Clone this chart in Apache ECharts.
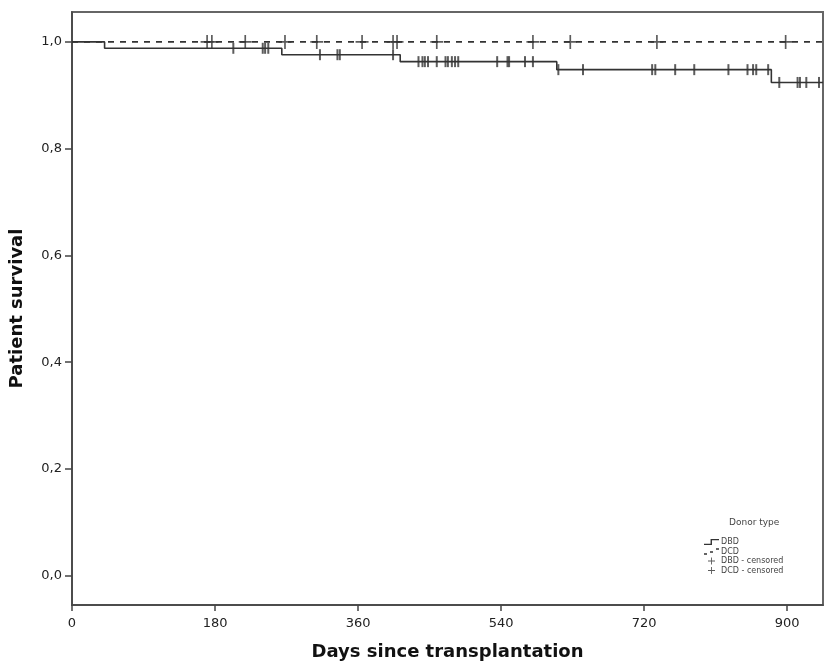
<!DOCTYPE html>
<html>
<head>
<meta charset="utf-8">
<script src="https://cdn.jsdelivr.net/npm/echarts@6/dist/echarts.min.js"></script>
<style>
  html, body { margin: 0; padding: 0; background: #fff; }
  #main { width: 826px; height: 665px; }
</style>
</head>
<body>
<div id="main"></div>
<script>
// Kaplan-Meier steps (day of event, survival after event)
const dbdTimes = [0, 41, 264, 413, 610, 880, 945]
const dbdSurv = [1, 0.988, 0.976, 0.963, 0.948, 0.924, 0.924]
const dcdTimes = [0, 945]
const dcdSurv = [1, 1]

// censored observations (days)
const dbdCensored = [203, 240, 243, 247, 312, 334, 337, 404, 436, 441, 444, 448, 459,
  470, 473, 478, 482, 486, 535, 548, 550, 570, 580, 612, 643, 730, 734, 759, 783,
  826, 850, 857, 861, 876, 890, 913, 916, 924, 940]
const dcdCensored = [170, 176, 218, 268, 308, 365, 404, 409, 459, 580, 627, 736, 898]

const xTicks = [0, 180, 360, 540, 720, 900]
const yTicks = [0, 0.2, 0.4, 0.6, 0.8, 1.0]

// survival at a given day (step function lookup)
function survAt (times, surv, d) {
  let v = surv[0]
  for (let i = 0; i < times.length; i++) {
    if (times[i] <= d) v = surv[i]
  }
  return v
}

const ink = '#333'
const plusPath = 'path://M6.1,0h1.8v6.1h6.1v1.8h-6.1v6.1h-1.8v-6.1h-6.1v-1.8h6.1z'

const chart = echarts.init(document.getElementById('main'))
chart.setOption({
  animation: false,
  grid: {
    left: 72, top: 12, right: 3, bottom: 60,
    outerBoundsMode: 'none', containLabel: false,
    show: true, borderColor: '#666', borderWidth: 2
  },
  graphic: [{
    type: 'text', left: 729, top: 518,
    style: { text: 'Donor type', fontSize: 9, fill: '#444', fontFamily: 'DejaVu Sans' }
  }],
  legend: {
    orient: 'vertical', left: 699, top: 533,
    itemWidth: 15, itemHeight: 7, itemGap: 1.5,
    selectedMode: false,
    textStyle: { fontSize: 8, color: '#444', fontFamily: 'DejaVu Sans', padding: [0, 0, 0, -3] },
    data: [
      { name: 'DBD', icon: 'path://M0,6h7v-5h9v1.5h-7.5v5h-8.5z' },
      { name: 'DCD', icon: 'path://M0,6h3v1.5h-3z M6,4h3v1.5h-3z M12,1h3v1.5h-3z' },
      { name: 'DBD - censored', icon: plusPath },
      { name: 'DCD - censored', icon: plusPath }
    ]
  },
  xAxis: {
    type: 'value', min: 0, max: 945,
    name: 'Days since transplantation', nameLocation: 'middle', nameGap: 38,
    nameTextStyle: { fontSize: 18, fontWeight: 'bold', color: '#111', fontFamily: 'DejaVu Sans' },
    splitLine: { show: false },
    axisLine: { onZero: false, lineStyle: { color: '#444', width: 1.5 } },
    axisTick: { length: 6, lineStyle: { color: '#444', width: 1.5 }, customValues: xTicks },
    axisLabel: { customValues: xTicks, margin: 12, fontSize: 13, color: '#222', fontFamily: 'DejaVu Sans' }
  },
  yAxis: {
    type: 'value', min: -0.055, max: 1.056,
    name: 'Patient survival', nameLocation: 'middle', nameGap: 46,
    nameTextStyle: { fontSize: 18, fontWeight: 'bold', color: '#111', fontFamily: 'DejaVu Sans' },
    splitLine: { show: false },
    axisLine: { onZero: false, lineStyle: { color: '#444', width: 1.5 } },
    axisTick: { length: 7, lineStyle: { color: '#444', width: 1.5 }, customValues: yTicks },
    axisLabel: {
      customValues: yTicks, margin: 10, fontSize: 13, color: '#222', fontFamily: 'DejaVu Sans',
      formatter: v => v.toFixed(1).replace('.', ',')
    }
  },
  series: [
    {
      name: 'DBD', type: 'line', step: 'end', showSymbol: false,
      color: ink, lineStyle: { color: ink, width: 1.6 },
      data: dbdTimes.map((t, i) => [t, dbdSurv[i]])
    },
    {
      name: 'DCD', type: 'line', step: 'end', showSymbol: false,
      color: ink, lineStyle: { color: ink, width: 1.6, type: [6, 6] },
      data: dcdTimes.map((t, i) => [t, dcdSurv[i]])
    },
    {
      name: 'DBD - censored', type: 'scatter',
      symbol: 'rect', symbolSize: [2, 11],
      itemStyle: { color: ink }, color: ink,
      data: dbdCensored.map(d => [d, survAt(dbdTimes, dbdSurv, d)])
    },
    {
      name: 'DCD - censored', type: 'scatter',
      symbol: plusPath, symbolSize: [13, 14],
      itemStyle: { color: ink }, color: ink,
      data: dcdCensored.map(d => [d, survAt(dcdTimes, dcdSurv, d)])
    }
  ]
})
</script>
</body>
</html>
